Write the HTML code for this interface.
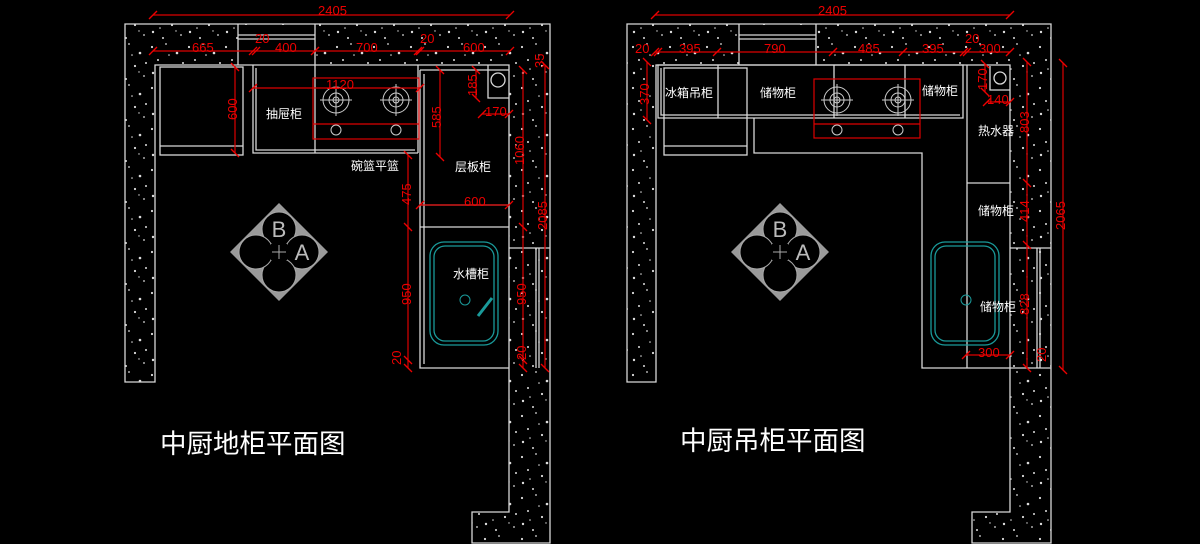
<!DOCTYPE html>
<html><head><meta charset="utf-8"><style>
html,body{margin:0;padding:0;background:#000;width:1200px;height:544px;overflow:hidden}
svg{display:block}
.w{fill:none;stroke:#d8d8d8;stroke-width:1.3}
.r{stroke:#d00;stroke-width:1.2;fill:none}
.rt{fill:#e00;font-family:"Liberation Sans",sans-serif;font-size:13px}
.t{fill:#fff;font-family:"Liberation Sans","Noto Sans CJK SC",sans-serif;font-size:12px}
.big{fill:#fff;font-family:"Liberation Sans","Noto Sans CJK SC",sans-serif;font-size:26.5px}
</style></head><body>
<svg width="1200" height="544" viewBox="0 0 1200 544" xmlns="http://www.w3.org/2000/svg">
<defs>
<pattern id="sp" width="37" height="41" patternUnits="userSpaceOnUse">
<rect width="37" height="41" style="fill:#000"/>
<g style="fill:#ddd">
<circle cx="4" cy="6" r="1.1"/><circle cx="18" cy="3" r="0.9"/><circle cx="29" cy="12" r="1.3"/>
<circle cx="10" cy="19" r="1"/><circle cx="24" cy="25" r="1.1"/><circle cx="5" cy="32" r="1.2"/>
<circle cx="33" cy="35" r="0.9"/><circle cx="15" cy="38" r="1"/><circle cx="21" cy="14" r="0.8"/>
<circle cx="35" cy="22" r="1"/><circle cx="12" cy="28" r="0.8"/><circle cx="28" cy="31" r="0.7"/></g>
</pattern>
<marker id="tk" markerWidth="10" markerHeight="10" refX="5" refY="5" orient="auto" markerUnits="userSpaceOnUse">
<path d="M1,9 L9,1" style="stroke:#e00;stroke-width:1.3"/></marker>
<g id="burner" style="stroke:#ccc;fill:none;stroke-width:1">
<circle r="13"/><circle r="7"/><circle r="3"/>
<line x1="-16" y1="0" x2="16" y2="0"/><line x1="0" y1="-16" x2="0" y2="16"/></g>
<g id="ba">
<polygon points="0,-49 49,0 0,49 -49,0" style="fill:#9a9a9a"/>
<circle cx="0" cy="-23" r="17" style="fill:#000;stroke:#aaa"/>
<circle cx="23" cy="0" r="17" style="fill:#000;stroke:#aaa"/>
<circle cx="0" cy="23" r="17" style="fill:#000;stroke:#aaa"/>
<circle cx="-23" cy="0" r="17" style="fill:#000;stroke:#aaa"/>
<rect x="-8" y="-8" width="16" height="16" style="fill:#000"/>
<path d="M-7,0 H7 M0,-7 V7" style="stroke:#aaa"/>
<text x="0" y="-15" text-anchor="middle" style="fill:#bbb;font-family:'Liberation Sans';font-size:22px">B</text>
<text x="23" y="8" text-anchor="middle" style="fill:#bbb;font-family:'Liberation Sans';font-size:22px">A</text>
</g>
<g id="sink" style="fill:none;stroke:#1a9a9a;stroke-width:1.3">
<rect x="0" y="0" width="68" height="103" rx="14"/><rect x="4" y="4" width="60" height="95" rx="11"/>
</g>
</defs>

<!-- ============ LEFT PLAN ============ -->
<g>
<path d="M125,24 H550 V543 H472 V512 H509 V65 H155 V382 H125 Z" style="fill:url(#sp);stroke:#d8d8d8;stroke-width:1.3"/>
<rect x="238" y="25" width="77" height="39" style="fill:#000"/>
<path class="w" d="M238,24 V65 M315,24 V65 M238,35 H315 M238,39 H315"/>
<rect class="w" x="160" y="67" width="83" height="88"/><line class="w" x1="160" y1="146" x2="243" y2="146"/>
<path class="w" d="M253,65 V153 H418 M256,68 V150 H415 M315,65 V153 M418,65 V153 M420,70 H509 M420,70 V368 H509 M424,74 V364"/>
<path class="w" d="M420,205 H509 M420,227 H509 M488,65 V98 H509"/>
<circle class="w" cx="498" cy="80" r="7"/>
<path class="w" d="M509,248 H550 M536,248 V368 M539,248 V368"/>
<rect class="r" x="313" y="78" width="106" height="61"/><line class="r" x1="313" y1="124" x2="419" y2="124"/>
<use href="#burner" x="336" y="100"/><use href="#burner" x="396" y="100"/>
<circle cx="336" cy="130" r="5" style="stroke:#ccc;fill:none"/><circle cx="396" cy="130" r="5" style="stroke:#ccc;fill:none"/>
<use href="#sink" x="430" y="242"/>
<circle cx="465" cy="300" r="5" style="stroke:#1a9a9a;fill:none"/>
<path d="M478,316 L492,298" style="stroke:#1a9a9a;stroke-width:3"/>
<use href="#ba" x="279" y="252"/>
<text class="t" x="266" y="118">抽屉柜</text>
<text class="t" x="351" y="170">碗篮平篮</text>
<text class="t" x="455" y="171">层板柜</text>
<text class="t" x="453" y="278">水槽柜</text>
<text class="big" x="160" y="453">中厨地柜平面图</text>
<g class="r">
<line x1="153" y1="15" x2="510" y2="15" marker-start="url(#tk)" marker-end="url(#tk)"/>
<polyline points="153,51 253,51 256,51 315,51 418,51 420,51 510,51" marker-start="url(#tk)" marker-mid="url(#tk)" marker-end="url(#tk)"/>
<line x1="235" y1="67" x2="235" y2="153" marker-start="url(#tk)" marker-end="url(#tk)"/>
<line x1="253" y1="88" x2="420" y2="88" marker-start="url(#tk)" marker-end="url(#tk)"/>
<line x1="440" y1="70" x2="440" y2="157" marker-start="url(#tk)" marker-end="url(#tk)"/>
<line x1="476" y1="70" x2="476" y2="98" marker-start="url(#tk)" marker-end="url(#tk)"/>
<line x1="482" y1="114" x2="509" y2="114" marker-start="url(#tk)" marker-end="url(#tk)"/>
<line x1="523" y1="70" x2="523" y2="227" marker-start="url(#tk)" marker-end="url(#tk)"/>
<line x1="545" y1="65" x2="545" y2="368" marker-start="url(#tk)" marker-end="url(#tk)"/>
<polyline points="408,155 408,227 408,360 408,368" marker-start="url(#tk)" marker-mid="url(#tk)" marker-end="url(#tk)"/>
<line x1="420" y1="205" x2="509" y2="205" marker-start="url(#tk)" marker-end="url(#tk)"/>
<polyline points="523,227 523,360 523,368" marker-mid="url(#tk)" marker-end="url(#tk)"/>
</g>
<g class="rt">
<text x="318" y="15">2405</text><text x="192" y="52">665</text><text x="255" y="43">20</text>
<text x="275" y="52">400</text><text x="356" y="52">700</text><text x="420" y="43">20</text><text x="463" y="52">600</text>
<text x="326" y="89">1120</text><text x="464" y="206">600</text><text x="485" y="116">170</text>
<text transform="translate(237,120) rotate(-90)">600</text>
<text transform="translate(441,128) rotate(-90)">585</text>
<text transform="translate(477,96) rotate(-90)">185</text>
<text transform="translate(524,165) rotate(-90)">1060</text>
<text transform="translate(547,230) rotate(-90)">2085</text>
<text transform="translate(411,205) rotate(-90)">475</text>
<text transform="translate(411,305) rotate(-90)">950</text>
<text transform="translate(526,305) rotate(-90)">950</text>
<text transform="translate(401,365) rotate(-90)">20</text>
<text transform="translate(526,360) rotate(-90)">20</text>
<text transform="translate(544,68) rotate(-90)">35</text>
</g>
</g>

<!-- ============ RIGHT PLAN ============ -->
<g>
<path d="M627,24 H1051 V543 H972 V512 H1010 V65 H656 V382 H627 Z" style="fill:url(#sp);stroke:#d8d8d8;stroke-width:1.3"/>
<rect x="739" y="25" width="77" height="39" style="fill:#000"/>
<path class="w" d="M739,24 V65 M816,24 V65 M739,35 H816 M739,39 H816"/>
<path class="w" d="M658,65 H963 V118 H658 Z M661,68 V115 H960 M718,65 V118 M834,65 V118 M905,65 V118"/>
<rect class="w" x="664" y="68" width="83" height="87"/><line class="w" x1="664" y1="146" x2="747" y2="146"/>
<path class="w" d="M754,118 V153 H922 V368 H1051 M967,65 V368 M967,183 H1010 M990,66 V90 H1010"/>
<circle class="w" cx="1000" cy="78" r="6"/>
<path class="w" d="M1010,248 H1051 M1037,248 V368 M1040,248 V368"/>
<rect class="r" x="814" y="79" width="106" height="59"/><line class="r" x1="814" y1="124" x2="920" y2="124"/>
<use href="#burner" x="837" y="100"/><use href="#burner" x="898" y="100"/>
<circle cx="837" cy="130" r="5" style="stroke:#ccc;fill:none"/><circle cx="898" cy="130" r="5" style="stroke:#ccc;fill:none"/>
<use href="#sink" x="931" y="242"/>
<circle cx="966" cy="300" r="5" style="stroke:#1a9a9a;fill:none"/>
<use href="#ba" x="780" y="252"/>
<text class="t" x="665" y="97">冰箱吊柜</text>
<text class="t" x="760" y="97">储物柜</text>
<text class="t" x="922" y="95">储物柜</text>
<text class="t" x="978" y="135">热水器</text>
<text class="t" x="978" y="215">储物柜</text>
<text class="t" x="980" y="311">储物柜</text>
<text class="big" x="680" y="450">中厨吊柜平面图</text>
<g class="r">
<line x1="655" y1="15" x2="1010" y2="15" marker-start="url(#tk)" marker-end="url(#tk)"/>
<polyline points="655,52 658,52 717,52 833,52 903,52 964,52 967,52 1010,52" marker-start="url(#tk)" marker-mid="url(#tk)" marker-end="url(#tk)"/>
<line x1="647" y1="62" x2="647" y2="120" marker-start="url(#tk)" marker-end="url(#tk)"/>
<line x1="985" y1="64" x2="985" y2="92" marker-start="url(#tk)" marker-end="url(#tk)"/>
<line x1="987" y1="102" x2="1010" y2="102" marker-start="url(#tk)" marker-end="url(#tk)"/>
<polyline points="1027,62 1027,183 1027,245 1027,368" marker-start="url(#tk)" marker-mid="url(#tk)" marker-end="url(#tk)"/>
<line x1="1063" y1="63" x2="1063" y2="370" marker-start="url(#tk)" marker-end="url(#tk)"/>
<line x1="966" y1="355" x2="1010" y2="355" marker-start="url(#tk)" marker-end="url(#tk)"/>
</g>
<g class="rt">
<text x="818" y="15">2405</text><text x="635" y="53">20</text><text x="679" y="53">395</text>
<text x="764" y="53">790</text><text x="858" y="53">485</text><text x="922" y="53">395</text>
<text x="965" y="43">20</text><text x="979" y="53">300</text><text x="987" y="104">140</text><text x="978" y="357">300</text>
<text transform="translate(649,105) rotate(-90)">370</text>
<text transform="translate(987,90) rotate(-90)">170</text>
<text transform="translate(1029,133) rotate(-90)">803</text>
<text transform="translate(1029,222) rotate(-90)">414</text>
<text transform="translate(1029,315) rotate(-90)">828</text>
<text transform="translate(1046,362) rotate(-90)">20</text>
<text transform="translate(1065,230) rotate(-90)">2065</text>
</g>
</g>
</svg>
</body></html>
